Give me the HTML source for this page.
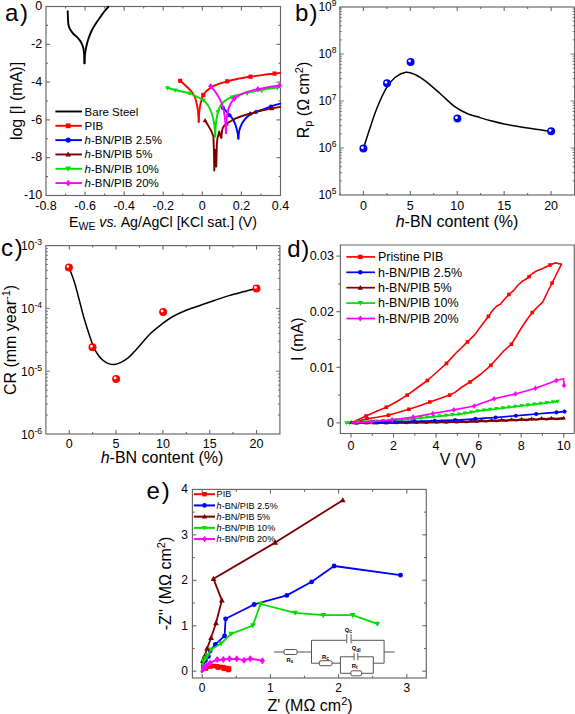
<!DOCTYPE html><html><head><meta charset="utf-8"><style>html,body{margin:0;padding:0;background:#fff;width:575px;height:714px;overflow:hidden}svg{display:block}text{font-family:"Liberation Sans", sans-serif;fill:#000}</style></head><body>
<svg width="575" height="714" viewBox="0 0 575 714">
<defs><radialGradient id="gb" cx="0.5" cy="0.5" r="0.55" fx="0.42" fy="0.36"><stop offset="0" stop-color="#ffffff"/><stop offset="0.3" stop-color="#ffffff"/><stop offset="0.45" stop-color="#3030ff"/><stop offset="1" stop-color="#0000ee"/></radialGradient><radialGradient id="gr" cx="0.5" cy="0.5" r="0.55" fx="0.42" fy="0.36"><stop offset="0" stop-color="#ffffff"/><stop offset="0.3" stop-color="#ffffff"/><stop offset="0.45" stop-color="#ff3030"/><stop offset="1" stop-color="#ee0000"/></radialGradient><radialGradient id="hl"><stop offset="0" stop-color="#fff" stop-opacity="1"/><stop offset="0.45" stop-color="#fff" stop-opacity="1"/><stop offset="1" stop-color="#fff" stop-opacity="0"/></radialGradient></defs>
<rect width="575" height="714" fill="#fff"/>
<rect x="46" y="6.5" width="234.5" height="189" fill="none" stroke="#666666" stroke-width="1.15"/>
<line x1="65.54" y1="195.5" x2="65.54" y2="193.5" stroke="#666666" stroke-width="1.1"/>
<line x1="65.54" y1="6.5" x2="65.54" y2="8.5" stroke="#666666" stroke-width="1.1"/>
<line x1="85.08" y1="195.5" x2="85.08" y2="191.5" stroke="#666666" stroke-width="1.1"/>
<line x1="85.08" y1="6.5" x2="85.08" y2="10.5" stroke="#666666" stroke-width="1.1"/>
<line x1="104.62" y1="195.5" x2="104.62" y2="193.5" stroke="#666666" stroke-width="1.1"/>
<line x1="104.62" y1="6.5" x2="104.62" y2="8.5" stroke="#666666" stroke-width="1.1"/>
<line x1="124.17" y1="195.5" x2="124.17" y2="191.5" stroke="#666666" stroke-width="1.1"/>
<line x1="124.17" y1="6.5" x2="124.17" y2="10.5" stroke="#666666" stroke-width="1.1"/>
<line x1="143.71" y1="195.5" x2="143.71" y2="193.5" stroke="#666666" stroke-width="1.1"/>
<line x1="143.71" y1="6.5" x2="143.71" y2="8.5" stroke="#666666" stroke-width="1.1"/>
<line x1="163.25" y1="195.5" x2="163.25" y2="191.5" stroke="#666666" stroke-width="1.1"/>
<line x1="163.25" y1="6.5" x2="163.25" y2="10.5" stroke="#666666" stroke-width="1.1"/>
<line x1="182.79" y1="195.5" x2="182.79" y2="193.5" stroke="#666666" stroke-width="1.1"/>
<line x1="182.79" y1="6.5" x2="182.79" y2="8.5" stroke="#666666" stroke-width="1.1"/>
<line x1="202.33" y1="195.5" x2="202.33" y2="191.5" stroke="#666666" stroke-width="1.1"/>
<line x1="202.33" y1="6.5" x2="202.33" y2="10.5" stroke="#666666" stroke-width="1.1"/>
<line x1="221.88" y1="195.5" x2="221.88" y2="193.5" stroke="#666666" stroke-width="1.1"/>
<line x1="221.88" y1="6.5" x2="221.88" y2="8.5" stroke="#666666" stroke-width="1.1"/>
<line x1="241.42" y1="195.5" x2="241.42" y2="191.5" stroke="#666666" stroke-width="1.1"/>
<line x1="241.42" y1="6.5" x2="241.42" y2="10.5" stroke="#666666" stroke-width="1.1"/>
<line x1="260.96" y1="195.5" x2="260.96" y2="193.5" stroke="#666666" stroke-width="1.1"/>
<line x1="260.96" y1="6.5" x2="260.96" y2="8.5" stroke="#666666" stroke-width="1.1"/>
<line x1="46" y1="25.4" x2="48" y2="25.4" stroke="#666666" stroke-width="1.1"/>
<line x1="280.5" y1="25.4" x2="278.5" y2="25.4" stroke="#666666" stroke-width="1.1"/>
<line x1="46" y1="44.3" x2="50" y2="44.3" stroke="#666666" stroke-width="1.1"/>
<line x1="280.5" y1="44.3" x2="276.5" y2="44.3" stroke="#666666" stroke-width="1.1"/>
<line x1="46" y1="63.2" x2="48" y2="63.2" stroke="#666666" stroke-width="1.1"/>
<line x1="280.5" y1="63.2" x2="278.5" y2="63.2" stroke="#666666" stroke-width="1.1"/>
<line x1="46" y1="82.1" x2="50" y2="82.1" stroke="#666666" stroke-width="1.1"/>
<line x1="280.5" y1="82.1" x2="276.5" y2="82.1" stroke="#666666" stroke-width="1.1"/>
<line x1="46" y1="101" x2="48" y2="101" stroke="#666666" stroke-width="1.1"/>
<line x1="280.5" y1="101" x2="278.5" y2="101" stroke="#666666" stroke-width="1.1"/>
<line x1="46" y1="119.9" x2="50" y2="119.9" stroke="#666666" stroke-width="1.1"/>
<line x1="280.5" y1="119.9" x2="276.5" y2="119.9" stroke="#666666" stroke-width="1.1"/>
<line x1="46" y1="138.8" x2="48" y2="138.8" stroke="#666666" stroke-width="1.1"/>
<line x1="280.5" y1="138.8" x2="278.5" y2="138.8" stroke="#666666" stroke-width="1.1"/>
<line x1="46" y1="157.7" x2="50" y2="157.7" stroke="#666666" stroke-width="1.1"/>
<line x1="280.5" y1="157.7" x2="276.5" y2="157.7" stroke="#666666" stroke-width="1.1"/>
<line x1="46" y1="176.6" x2="48" y2="176.6" stroke="#666666" stroke-width="1.1"/>
<line x1="280.5" y1="176.6" x2="278.5" y2="176.6" stroke="#666666" stroke-width="1.1"/>
<text x="42.2" y="10.1" font-size="12.5" text-anchor="end"  style="">0</text>
<text x="42.2" y="47.9" font-size="12.5" text-anchor="end"  style="">-2</text>
<text x="42.2" y="85.7" font-size="12.5" text-anchor="end"  style="">-4</text>
<text x="42.2" y="123.5" font-size="12.5" text-anchor="end"  style="">-6</text>
<text x="42.2" y="161.3" font-size="12.5" text-anchor="end"  style="">-8</text>
<text x="42.2" y="199.1" font-size="12.5" text-anchor="end"  style="">-10</text>
<text x="46" y="209.7" font-size="12.5" text-anchor="middle"  style="">-0.8</text>
<text x="85.08" y="209.7" font-size="12.5" text-anchor="middle"  style="">-0.6</text>
<text x="124.17" y="209.7" font-size="12.5" text-anchor="middle"  style="">-0.4</text>
<text x="163.25" y="209.7" font-size="12.5" text-anchor="middle"  style="">-0.2</text>
<text x="202.33" y="209.7" font-size="12.5" text-anchor="middle"  style="">0</text>
<text x="241.42" y="209.7" font-size="12.5" text-anchor="middle"  style="">0.2</text>
<text x="280.5" y="209.7" font-size="12.5" text-anchor="middle"  style="">0.4</text>
<text x="5" y="21.2" font-size="24" text-anchor="start"  style="">a<tspan dx="1.6">)</tspan></text>
<text transform="translate(22,101) rotate(-90)" font-size="16" text-anchor="middle">log [I (mA)]</text>
<text x="69" y="226.5" font-size="14.2">E<tspan font-size="10.5" dy="3">WE</tspan><tspan dy="-3"> </tspan><tspan font-style="italic">vs.</tspan> Ag/AgCl [KCl sat.] (V)</text>
<path d="M67.7,11.2 C67.75,12.5 67.87,16.7 68,19 C68.13,21.3 68.13,23.25 68.5,25 C68.87,26.75 69.37,28 70.2,29.5 C71.03,31 72.27,32.65 73.5,34 C74.73,35.35 76.32,36.18 77.6,37.6 C78.88,39.02 80.25,40.77 81.2,42.5 C82.15,44.23 82.8,45.92 83.3,48 C83.8,50.08 84,52.45 84.2,55 C84.4,57.55 84.45,61.92 84.5,63.3" fill="none" stroke="#000" stroke-width="1.9" stroke-linejoin="round" stroke-linecap="round" />
<path d="M84.5,63.3 C84.57,61.92 84.62,57.72 84.9,55 C85.18,52.28 85.65,49.58 86.2,47 C86.75,44.42 87.32,42.17 88.2,39.5 C89.08,36.83 90.28,33.58 91.5,31 C92.72,28.42 94.08,26.25 95.5,24 C96.92,21.75 98.53,19.58 100,17.5 C101.47,15.42 102.92,13.28 104.3,11.5 C105.68,9.72 107.63,7.58 108.3,6.8" fill="none" stroke="#000" stroke-width="1.9" stroke-linejoin="round" stroke-linecap="round" />
<path d="M180.2,80.8 C181.17,81.67 184.12,84.22 186,86 C187.88,87.78 190,89.58 191.5,91.5 C193,93.42 194.08,95.25 195,97.5 C195.92,99.75 196.47,102.42 197,105 C197.53,107.58 197.92,110.18 198.2,113 C198.48,115.82 198.62,120.42 198.7,121.9" fill="none" stroke="#ff0000" stroke-width="1.9" stroke-linejoin="round" stroke-linecap="round" />
<path d="M198.7,121.9 C198.8,120.25 198.98,115.07 199.3,112 C199.62,108.93 199.93,106.33 200.6,103.5 C201.27,100.67 202.27,97.12 203.3,95 C204.33,92.88 205.5,92.05 206.8,90.8 C208.1,89.55 209.23,88.6 211.1,87.5 C212.97,86.4 215.3,85.23 218,84.2 C220.7,83.17 223.97,82.2 227.3,81.3 C230.63,80.4 234.13,79.57 238,78.8 C241.87,78.03 246.5,77.32 250.5,76.7 C254.5,76.08 258,75.62 262,75.1 C266,74.58 271.45,73.97 274.5,73.6 C277.55,73.23 279.33,73.02 280.3,72.9" fill="none" stroke="#ff0000" stroke-width="1.9" stroke-linejoin="round" stroke-linecap="round" />
<rect x="178.1" y="78.7" width="4.2" height="4.2" fill="#ff0000"/>
<rect x="201.2" y="92.9" width="4.2" height="4.2" fill="#ff0000"/>
<rect x="225.2" y="79.2" width="4.2" height="4.2" fill="#ff0000"/>
<rect x="248.4" y="74.6" width="4.2" height="4.2" fill="#ff0000"/>
<rect x="272.4" y="71.5" width="4.2" height="4.2" fill="#ff0000"/>
<path d="M222.4,107.3 C223,107.92 224.73,109.63 226,111 C227.27,112.37 228.75,113.95 230,115.5 C231.25,117.05 232.5,118.47 233.5,120.3 C234.5,122.13 235.32,124.38 236,126.5 C236.68,128.62 237.2,130.98 237.6,133 C238,135.02 238.27,137.67 238.4,138.6" fill="none" stroke="#0000ff" stroke-width="1.9" stroke-linejoin="round" stroke-linecap="round" />
<path d="M238.4,138.6 C238.53,137.33 238.72,133.27 239.2,131 C239.68,128.73 240.4,126.9 241.3,125 C242.2,123.1 243.32,121.2 244.6,119.6 C245.88,118 247.27,116.6 249,115.4 C250.73,114.2 252.92,113.3 255,112.4 C257.08,111.5 258.85,111 261.5,110 C264.15,109 267.77,107.47 270.9,106.4 C274.03,105.33 278.73,104.07 280.3,103.6" fill="none" stroke="#0000ff" stroke-width="1.9" stroke-linejoin="round" stroke-linecap="round" />
<circle cx="223" cy="108" r="1.99" fill="#0000ff"/>
<circle cx="229.5" cy="115.2" r="1.99" fill="#0000ff"/>
<circle cx="256" cy="112" r="1.99" fill="#0000ff"/>
<circle cx="271" cy="106.4" r="1.99" fill="#0000ff"/>
<path d="M205.1,120.5 L208.4,125.9 L211.6,131.5 L213.4,136.8 L213.9,150 L214.3,170.5 L215.3,150 L216.3,166.5 L216.8,145 L217.4,138.5 L219.3,131.5 L220.4,136 L221.4,138 L222.1,130 L223.5,126.5 L226.9,123.4 L231,121 L235.2,118.7 L242,116 L249.8,113.6 L257,111.6 L265,109.9 L272,108.4 L280.3,106.9" fill="none" stroke="#7b0000" stroke-width="1.9" stroke-linejoin="round" stroke-linecap="round" />
<path d="M205.1,118 L207.5,122.3 L202.7,122.3 Z" fill="#7b0000"/>
<path d="M226.5,121.1 L228.9,125.4 L224.1,125.4 Z" fill="#7b0000"/>
<path d="M250,110.9 L252.4,115.2 L247.6,115.2 Z" fill="#7b0000"/>
<path d="M272,105.9 L274.4,110.2 L269.6,110.2 Z" fill="#7b0000"/>
<path d="M166.8,87.6 C168,87.97 171.47,89.15 174,89.8 C176.53,90.45 179.47,90.9 182,91.5 C184.53,92.1 186.87,92.6 189.2,93.4 C191.53,94.2 193.77,95.25 196,96.3 C198.23,97.35 200.77,98.42 202.6,99.7 C204.43,100.98 205.68,102.28 207,104 C208.32,105.72 209.5,107.67 210.5,110 C211.5,112.33 212.32,115.17 213,118 C213.68,120.83 214.23,123.9 214.6,127 C214.97,130.1 215.1,135 215.2,136.6" fill="none" stroke="#00dd00" stroke-width="1.9" stroke-linejoin="round" stroke-linecap="round" />
<path d="M215.2,136.6 C215.3,134.67 215.47,128.6 215.8,125 C216.13,121.4 216.58,117.92 217.2,115 C217.82,112.08 218.45,109.67 219.5,107.5 C220.55,105.33 222.08,103.45 223.5,102 C224.92,100.55 226.53,99.7 228,98.8 C229.47,97.9 230.47,97.3 232.3,96.6 C234.13,95.9 236.57,95.23 239,94.6 C241.43,93.97 244.4,93.35 246.9,92.8 C249.4,92.25 251.57,91.75 254,91.3 C256.43,90.85 258.83,90.57 261.5,90.1 C264.17,89.63 266.87,89.03 270,88.5 C273.13,87.97 278.58,87.17 280.3,86.9" fill="none" stroke="#00dd00" stroke-width="1.9" stroke-linejoin="round" stroke-linecap="round" />
<path d="M167.5,90.5 L169.9,86.2 L165.1,86.2 Z" fill="#00dd00"/>
<path d="M175.3,92.7 L177.7,88.4 L172.9,88.4 Z" fill="#00dd00"/>
<path d="M189.1,95.7 L191.5,91.4 L186.7,91.4 Z" fill="#00dd00"/>
<path d="M203.5,102.7 L205.9,98.4 L201.1,98.4 Z" fill="#00dd00"/>
<path d="M217.8,114.5 L220.2,110.2 L215.4,110.2 Z" fill="#00dd00"/>
<path d="M232,99.9 L234.4,95.6 L229.6,95.6 Z" fill="#00dd00"/>
<path d="M247.1,96 L249.5,91.7 L244.7,91.7 Z" fill="#00dd00"/>
<path d="M261.5,93.3 L263.9,89 L259.1,89 Z" fill="#00dd00"/>
<path d="M277.4,90.4 L279.8,86.1 L275,86.1 Z" fill="#00dd00"/>
<path d="M210.6,86.3 C211.17,86.92 212.77,88.38 214,90 C215.23,91.62 216.7,93.75 218,96 C219.3,98.25 220.8,100.83 221.8,103.5 C222.8,106.17 223.42,108.92 224,112 C224.58,115.08 224.97,118.5 225.3,122 C225.63,125.5 225.88,131.17 226,133" fill="none" stroke="#ff00ff" stroke-width="1.9" stroke-linejoin="round" stroke-linecap="round" />
<path d="M226,133 C226.08,131 226.17,124.75 226.5,121 C226.83,117.25 227.3,113.42 228,110.5 C228.7,107.58 229.63,105.48 230.7,103.5 C231.77,101.52 232.85,100.02 234.4,98.6 C235.95,97.18 238.08,96.05 240,95 C241.92,93.95 243.98,93.03 245.9,92.3 C247.82,91.57 249.5,91.12 251.5,90.6 C253.5,90.08 255.15,89.77 257.9,89.2 C260.65,88.63 264.27,87.83 268,87.2 C271.73,86.57 278.25,85.7 280.3,85.4" fill="none" stroke="#ff00ff" stroke-width="1.9" stroke-linejoin="round" stroke-linecap="round" />
<path d="M210.6,83.22 L213.02,86.3 L210.6,89.38 L208.18,86.3 Z" fill="#ff00ff"/>
<path d="M234.4,95.52 L236.82,98.6 L234.4,101.68 L231.98,98.6 Z" fill="#ff00ff"/>
<path d="M257.9,86.12 L260.32,89.2 L257.9,92.28 L255.48,89.2 Z" fill="#ff00ff"/>
<path d="M279.5,82.42 L281.92,85.5 L279.5,88.58 L277.08,85.5 Z" fill="#ff00ff"/>
<line x1="55.4" y1="111.5" x2="82" y2="111.5" stroke="#000" stroke-width="1.9"/>
<text x="84.6" y="115.5" font-size="11.5" text-anchor="start"  style="">Bare Steel</text>
<line x1="55.4" y1="125.82" x2="82" y2="125.82" stroke="#ff0000" stroke-width="1.9"/>
<rect x="65.8" y="123.42" width="4.8" height="4.8" fill="#ff0000"/>
<text x="84.6" y="129.82" font-size="11.5" text-anchor="start"  style="">PIB</text>
<line x1="55.4" y1="140.14" x2="82" y2="140.14" stroke="#0000ff" stroke-width="1.9"/>
<circle cx="68.2" cy="140.14" r="2.52" fill="#0000ff"/>
<text x="84.6" y="144.14" font-size="11.5" text-anchor="start"  style=""><tspan font-style="italic">h</tspan>-BN/PIB 2.5%</text>
<line x1="55.4" y1="154.46" x2="82" y2="154.46" stroke="#7b0000" stroke-width="1.9"/>
<path d="M68.2,151.46 L71.08,156.62 L65.32,156.62 Z" fill="#7b0000"/>
<text x="84.6" y="158.46" font-size="11.5" text-anchor="start"  style=""><tspan font-style="italic">h</tspan>-BN/PIB 5%</text>
<line x1="55.4" y1="168.78" x2="82" y2="168.78" stroke="#00dd00" stroke-width="1.9"/>
<path d="M68.2,171.78 L71.08,166.62 L65.32,166.62 Z" fill="#00dd00"/>
<text x="84.6" y="172.78" font-size="11.5" text-anchor="start"  style=""><tspan font-style="italic">h</tspan>-BN/PIB 10%</text>
<line x1="55.4" y1="183.1" x2="82" y2="183.1" stroke="#ff00ff" stroke-width="1.9"/>
<path d="M68.2,179.74 L70.84,183.1 L68.2,186.46 L65.56,183.1 Z" fill="#ff00ff"/>
<text x="84.6" y="187.1" font-size="11.5" text-anchor="start"  style=""><tspan font-style="italic">h</tspan>-BN/PIB 20%</text>
<rect x="339.9" y="7" width="234.7" height="188" fill="none" stroke="#666666" stroke-width="1.15"/>
<line x1="339.94" y1="195" x2="339.94" y2="193" stroke="#666666" stroke-width="1.1"/>
<line x1="339.94" y1="7" x2="339.94" y2="9" stroke="#666666" stroke-width="1.1"/>
<line x1="363.4" y1="195" x2="363.4" y2="191" stroke="#666666" stroke-width="1.1"/>
<line x1="363.4" y1="7" x2="363.4" y2="11" stroke="#666666" stroke-width="1.1"/>
<line x1="386.86" y1="195" x2="386.86" y2="193" stroke="#666666" stroke-width="1.1"/>
<line x1="386.86" y1="7" x2="386.86" y2="9" stroke="#666666" stroke-width="1.1"/>
<line x1="410.32" y1="195" x2="410.32" y2="191" stroke="#666666" stroke-width="1.1"/>
<line x1="410.32" y1="7" x2="410.32" y2="11" stroke="#666666" stroke-width="1.1"/>
<line x1="433.79" y1="195" x2="433.79" y2="193" stroke="#666666" stroke-width="1.1"/>
<line x1="433.79" y1="7" x2="433.79" y2="9" stroke="#666666" stroke-width="1.1"/>
<line x1="457.25" y1="195" x2="457.25" y2="191" stroke="#666666" stroke-width="1.1"/>
<line x1="457.25" y1="7" x2="457.25" y2="11" stroke="#666666" stroke-width="1.1"/>
<line x1="480.71" y1="195" x2="480.71" y2="193" stroke="#666666" stroke-width="1.1"/>
<line x1="480.71" y1="7" x2="480.71" y2="9" stroke="#666666" stroke-width="1.1"/>
<line x1="504.17" y1="195" x2="504.17" y2="191" stroke="#666666" stroke-width="1.1"/>
<line x1="504.17" y1="7" x2="504.17" y2="11" stroke="#666666" stroke-width="1.1"/>
<line x1="527.64" y1="195" x2="527.64" y2="193" stroke="#666666" stroke-width="1.1"/>
<line x1="527.64" y1="7" x2="527.64" y2="9" stroke="#666666" stroke-width="1.1"/>
<line x1="551.1" y1="195" x2="551.1" y2="191" stroke="#666666" stroke-width="1.1"/>
<line x1="551.1" y1="7" x2="551.1" y2="11" stroke="#666666" stroke-width="1.1"/>
<line x1="339.9" y1="180.85" x2="341.9" y2="180.85" stroke="#666666" stroke-width="0.9"/>
<line x1="574.6" y1="180.85" x2="572.6" y2="180.85" stroke="#666666" stroke-width="0.9"/>
<line x1="339.9" y1="172.58" x2="341.9" y2="172.58" stroke="#666666" stroke-width="0.9"/>
<line x1="574.6" y1="172.58" x2="572.6" y2="172.58" stroke="#666666" stroke-width="0.9"/>
<line x1="339.9" y1="166.7" x2="341.9" y2="166.7" stroke="#666666" stroke-width="0.9"/>
<line x1="574.6" y1="166.7" x2="572.6" y2="166.7" stroke="#666666" stroke-width="0.9"/>
<line x1="339.9" y1="162.15" x2="341.9" y2="162.15" stroke="#666666" stroke-width="0.9"/>
<line x1="574.6" y1="162.15" x2="572.6" y2="162.15" stroke="#666666" stroke-width="0.9"/>
<line x1="339.9" y1="158.43" x2="341.9" y2="158.43" stroke="#666666" stroke-width="0.9"/>
<line x1="574.6" y1="158.43" x2="572.6" y2="158.43" stroke="#666666" stroke-width="0.9"/>
<line x1="339.9" y1="155.28" x2="341.9" y2="155.28" stroke="#666666" stroke-width="0.9"/>
<line x1="574.6" y1="155.28" x2="572.6" y2="155.28" stroke="#666666" stroke-width="0.9"/>
<line x1="339.9" y1="152.55" x2="341.9" y2="152.55" stroke="#666666" stroke-width="0.9"/>
<line x1="574.6" y1="152.55" x2="572.6" y2="152.55" stroke="#666666" stroke-width="0.9"/>
<line x1="339.9" y1="150.15" x2="341.9" y2="150.15" stroke="#666666" stroke-width="0.9"/>
<line x1="574.6" y1="150.15" x2="572.6" y2="150.15" stroke="#666666" stroke-width="0.9"/>
<line x1="339.9" y1="148" x2="343.9" y2="148" stroke="#666666" stroke-width="0.9"/>
<line x1="574.6" y1="148" x2="570.6" y2="148" stroke="#666666" stroke-width="0.9"/>
<line x1="339.9" y1="133.85" x2="341.9" y2="133.85" stroke="#666666" stroke-width="0.9"/>
<line x1="574.6" y1="133.85" x2="572.6" y2="133.85" stroke="#666666" stroke-width="0.9"/>
<line x1="339.9" y1="125.58" x2="341.9" y2="125.58" stroke="#666666" stroke-width="0.9"/>
<line x1="574.6" y1="125.58" x2="572.6" y2="125.58" stroke="#666666" stroke-width="0.9"/>
<line x1="339.9" y1="119.7" x2="341.9" y2="119.7" stroke="#666666" stroke-width="0.9"/>
<line x1="574.6" y1="119.7" x2="572.6" y2="119.7" stroke="#666666" stroke-width="0.9"/>
<line x1="339.9" y1="115.15" x2="341.9" y2="115.15" stroke="#666666" stroke-width="0.9"/>
<line x1="574.6" y1="115.15" x2="572.6" y2="115.15" stroke="#666666" stroke-width="0.9"/>
<line x1="339.9" y1="111.43" x2="341.9" y2="111.43" stroke="#666666" stroke-width="0.9"/>
<line x1="574.6" y1="111.43" x2="572.6" y2="111.43" stroke="#666666" stroke-width="0.9"/>
<line x1="339.9" y1="108.28" x2="341.9" y2="108.28" stroke="#666666" stroke-width="0.9"/>
<line x1="574.6" y1="108.28" x2="572.6" y2="108.28" stroke="#666666" stroke-width="0.9"/>
<line x1="339.9" y1="105.55" x2="341.9" y2="105.55" stroke="#666666" stroke-width="0.9"/>
<line x1="574.6" y1="105.55" x2="572.6" y2="105.55" stroke="#666666" stroke-width="0.9"/>
<line x1="339.9" y1="103.15" x2="341.9" y2="103.15" stroke="#666666" stroke-width="0.9"/>
<line x1="574.6" y1="103.15" x2="572.6" y2="103.15" stroke="#666666" stroke-width="0.9"/>
<line x1="339.9" y1="101" x2="343.9" y2="101" stroke="#666666" stroke-width="0.9"/>
<line x1="574.6" y1="101" x2="570.6" y2="101" stroke="#666666" stroke-width="0.9"/>
<line x1="339.9" y1="86.85" x2="341.9" y2="86.85" stroke="#666666" stroke-width="0.9"/>
<line x1="574.6" y1="86.85" x2="572.6" y2="86.85" stroke="#666666" stroke-width="0.9"/>
<line x1="339.9" y1="78.58" x2="341.9" y2="78.58" stroke="#666666" stroke-width="0.9"/>
<line x1="574.6" y1="78.58" x2="572.6" y2="78.58" stroke="#666666" stroke-width="0.9"/>
<line x1="339.9" y1="72.7" x2="341.9" y2="72.7" stroke="#666666" stroke-width="0.9"/>
<line x1="574.6" y1="72.7" x2="572.6" y2="72.7" stroke="#666666" stroke-width="0.9"/>
<line x1="339.9" y1="68.15" x2="341.9" y2="68.15" stroke="#666666" stroke-width="0.9"/>
<line x1="574.6" y1="68.15" x2="572.6" y2="68.15" stroke="#666666" stroke-width="0.9"/>
<line x1="339.9" y1="64.43" x2="341.9" y2="64.43" stroke="#666666" stroke-width="0.9"/>
<line x1="574.6" y1="64.43" x2="572.6" y2="64.43" stroke="#666666" stroke-width="0.9"/>
<line x1="339.9" y1="61.28" x2="341.9" y2="61.28" stroke="#666666" stroke-width="0.9"/>
<line x1="574.6" y1="61.28" x2="572.6" y2="61.28" stroke="#666666" stroke-width="0.9"/>
<line x1="339.9" y1="58.55" x2="341.9" y2="58.55" stroke="#666666" stroke-width="0.9"/>
<line x1="574.6" y1="58.55" x2="572.6" y2="58.55" stroke="#666666" stroke-width="0.9"/>
<line x1="339.9" y1="56.15" x2="341.9" y2="56.15" stroke="#666666" stroke-width="0.9"/>
<line x1="574.6" y1="56.15" x2="572.6" y2="56.15" stroke="#666666" stroke-width="0.9"/>
<line x1="339.9" y1="54" x2="343.9" y2="54" stroke="#666666" stroke-width="0.9"/>
<line x1="574.6" y1="54" x2="570.6" y2="54" stroke="#666666" stroke-width="0.9"/>
<line x1="339.9" y1="39.85" x2="341.9" y2="39.85" stroke="#666666" stroke-width="0.9"/>
<line x1="574.6" y1="39.85" x2="572.6" y2="39.85" stroke="#666666" stroke-width="0.9"/>
<line x1="339.9" y1="31.58" x2="341.9" y2="31.58" stroke="#666666" stroke-width="0.9"/>
<line x1="574.6" y1="31.58" x2="572.6" y2="31.58" stroke="#666666" stroke-width="0.9"/>
<line x1="339.9" y1="25.7" x2="341.9" y2="25.7" stroke="#666666" stroke-width="0.9"/>
<line x1="574.6" y1="25.7" x2="572.6" y2="25.7" stroke="#666666" stroke-width="0.9"/>
<line x1="339.9" y1="21.15" x2="341.9" y2="21.15" stroke="#666666" stroke-width="0.9"/>
<line x1="574.6" y1="21.15" x2="572.6" y2="21.15" stroke="#666666" stroke-width="0.9"/>
<line x1="339.9" y1="17.43" x2="341.9" y2="17.43" stroke="#666666" stroke-width="0.9"/>
<line x1="574.6" y1="17.43" x2="572.6" y2="17.43" stroke="#666666" stroke-width="0.9"/>
<line x1="339.9" y1="14.28" x2="341.9" y2="14.28" stroke="#666666" stroke-width="0.9"/>
<line x1="574.6" y1="14.28" x2="572.6" y2="14.28" stroke="#666666" stroke-width="0.9"/>
<line x1="339.9" y1="11.55" x2="341.9" y2="11.55" stroke="#666666" stroke-width="0.9"/>
<line x1="574.6" y1="11.55" x2="572.6" y2="11.55" stroke="#666666" stroke-width="0.9"/>
<line x1="339.9" y1="9.15" x2="341.9" y2="9.15" stroke="#666666" stroke-width="0.9"/>
<line x1="574.6" y1="9.15" x2="572.6" y2="9.15" stroke="#666666" stroke-width="0.9"/>
<text x="336.5" y="199" font-size="12" text-anchor="end">10<tspan font-size="8.5" dy="-5">5</tspan></text>
<text x="336.5" y="152" font-size="12" text-anchor="end">10<tspan font-size="8.5" dy="-5">6</tspan></text>
<text x="336.5" y="105" font-size="12" text-anchor="end">10<tspan font-size="8.5" dy="-5">7</tspan></text>
<text x="336.5" y="58" font-size="12" text-anchor="end">10<tspan font-size="8.5" dy="-5">8</tspan></text>
<text x="336.5" y="11" font-size="12" text-anchor="end">10<tspan font-size="8.5" dy="-5">9</tspan></text>
<text x="363.4" y="209.5" font-size="12.5" text-anchor="middle"  style="">0</text>
<text x="410.32" y="209.5" font-size="12.5" text-anchor="middle"  style="">5</text>
<text x="457.25" y="209.5" font-size="12.5" text-anchor="middle"  style="">10</text>
<text x="504.17" y="209.5" font-size="12.5" text-anchor="middle"  style="">15</text>
<text x="551.1" y="209.5" font-size="12.5" text-anchor="middle"  style="">20</text>
<text x="295" y="21.4" font-size="24" text-anchor="start"  style="">b<tspan dx="1.2">)</tspan></text>
<text transform="translate(308.7,100) rotate(-90)" font-size="16" text-anchor="middle">R<tspan font-size="11" dy="3">p</tspan><tspan dy="-3"> (&#937; cm</tspan><tspan font-size="11" dy="-6">2</tspan><tspan dy="6">)</tspan></text>
<text x="457" y="226.5" font-size="16" text-anchor="middle"><tspan font-style="italic">h</tspan>-BN content (%)</text>
<path d="M363.4,148.6 C364.5,145.17 367.73,134.77 370,128 C372.27,121.23 374.28,114.63 377,108 C379.72,101.37 383.3,93.28 386.3,88.2 C389.3,83.12 391.77,80.15 395,77.5 C398.23,74.85 402.37,72.8 405.7,72.3 C409.03,71.8 411.75,73.07 415,74.5 C418.25,75.93 421.03,77.73 425.2,80.9 C429.37,84.07 435.13,89.25 440,93.5 C444.87,97.75 449.9,103.07 454.4,106.4 C458.9,109.73 462.73,111.63 467,113.5 C471.27,115.37 475.83,116.35 480,117.6 C484.17,118.85 487.98,119.95 492,121 C496.02,122.05 499.93,123.02 504.1,123.9 C508.27,124.78 512.75,125.57 517,126.3 C521.25,127.03 525.77,127.72 529.6,128.3 C533.43,128.88 536.42,129.3 540,129.8 C543.58,130.3 549.25,131.05 551.1,131.3" fill="none" stroke="#000" stroke-width="1.5" stroke-linejoin="round" stroke-linecap="round" />
<circle cx="363.4" cy="148.6" r="4" fill="#0000ff"/>
<circle cx="362.4" cy="147.6" r="1.9" fill="url(#hl)"/>
<circle cx="387" cy="83.3" r="4" fill="#0000ff"/>
<circle cx="386" cy="82.3" r="1.9" fill="url(#hl)"/>
<circle cx="410.6" cy="61.9" r="4" fill="#0000ff"/>
<circle cx="409.6" cy="60.9" r="1.9" fill="url(#hl)"/>
<circle cx="457.4" cy="118.6" r="4" fill="#0000ff"/>
<circle cx="456.4" cy="117.6" r="1.9" fill="url(#hl)"/>
<circle cx="551.1" cy="131.3" r="4" fill="#0000ff"/>
<circle cx="550.1" cy="130.3" r="1.9" fill="url(#hl)"/>
<rect x="45.9" y="245.6" width="234" height="188.4" fill="none" stroke="#666666" stroke-width="1.15"/>
<line x1="69.3" y1="434" x2="69.3" y2="430" stroke="#666666" stroke-width="1.1"/>
<line x1="69.3" y1="245.6" x2="69.3" y2="249.6" stroke="#666666" stroke-width="1.1"/>
<line x1="92.7" y1="434" x2="92.7" y2="432" stroke="#666666" stroke-width="1.1"/>
<line x1="92.7" y1="245.6" x2="92.7" y2="247.6" stroke="#666666" stroke-width="1.1"/>
<line x1="116.1" y1="434" x2="116.1" y2="430" stroke="#666666" stroke-width="1.1"/>
<line x1="116.1" y1="245.6" x2="116.1" y2="249.6" stroke="#666666" stroke-width="1.1"/>
<line x1="139.5" y1="434" x2="139.5" y2="432" stroke="#666666" stroke-width="1.1"/>
<line x1="139.5" y1="245.6" x2="139.5" y2="247.6" stroke="#666666" stroke-width="1.1"/>
<line x1="162.9" y1="434" x2="162.9" y2="430" stroke="#666666" stroke-width="1.1"/>
<line x1="162.9" y1="245.6" x2="162.9" y2="249.6" stroke="#666666" stroke-width="1.1"/>
<line x1="186.3" y1="434" x2="186.3" y2="432" stroke="#666666" stroke-width="1.1"/>
<line x1="186.3" y1="245.6" x2="186.3" y2="247.6" stroke="#666666" stroke-width="1.1"/>
<line x1="209.7" y1="434" x2="209.7" y2="430" stroke="#666666" stroke-width="1.1"/>
<line x1="209.7" y1="245.6" x2="209.7" y2="249.6" stroke="#666666" stroke-width="1.1"/>
<line x1="233.1" y1="434" x2="233.1" y2="432" stroke="#666666" stroke-width="1.1"/>
<line x1="233.1" y1="245.6" x2="233.1" y2="247.6" stroke="#666666" stroke-width="1.1"/>
<line x1="256.5" y1="434" x2="256.5" y2="430" stroke="#666666" stroke-width="1.1"/>
<line x1="256.5" y1="245.6" x2="256.5" y2="249.6" stroke="#666666" stroke-width="1.1"/>
<line x1="45.9" y1="415.1" x2="47.9" y2="415.1" stroke="#666666" stroke-width="0.9"/>
<line x1="279.9" y1="415.1" x2="277.9" y2="415.1" stroke="#666666" stroke-width="0.9"/>
<line x1="45.9" y1="404.04" x2="47.9" y2="404.04" stroke="#666666" stroke-width="0.9"/>
<line x1="279.9" y1="404.04" x2="277.9" y2="404.04" stroke="#666666" stroke-width="0.9"/>
<line x1="45.9" y1="396.19" x2="47.9" y2="396.19" stroke="#666666" stroke-width="0.9"/>
<line x1="279.9" y1="396.19" x2="277.9" y2="396.19" stroke="#666666" stroke-width="0.9"/>
<line x1="45.9" y1="390.1" x2="47.9" y2="390.1" stroke="#666666" stroke-width="0.9"/>
<line x1="279.9" y1="390.1" x2="277.9" y2="390.1" stroke="#666666" stroke-width="0.9"/>
<line x1="45.9" y1="385.13" x2="47.9" y2="385.13" stroke="#666666" stroke-width="0.9"/>
<line x1="279.9" y1="385.13" x2="277.9" y2="385.13" stroke="#666666" stroke-width="0.9"/>
<line x1="45.9" y1="380.93" x2="47.9" y2="380.93" stroke="#666666" stroke-width="0.9"/>
<line x1="279.9" y1="380.93" x2="277.9" y2="380.93" stroke="#666666" stroke-width="0.9"/>
<line x1="45.9" y1="377.29" x2="47.9" y2="377.29" stroke="#666666" stroke-width="0.9"/>
<line x1="279.9" y1="377.29" x2="277.9" y2="377.29" stroke="#666666" stroke-width="0.9"/>
<line x1="45.9" y1="374.07" x2="47.9" y2="374.07" stroke="#666666" stroke-width="0.9"/>
<line x1="279.9" y1="374.07" x2="277.9" y2="374.07" stroke="#666666" stroke-width="0.9"/>
<line x1="45.9" y1="371.2" x2="49.9" y2="371.2" stroke="#666666" stroke-width="0.9"/>
<line x1="279.9" y1="371.2" x2="275.9" y2="371.2" stroke="#666666" stroke-width="0.9"/>
<line x1="45.9" y1="352.3" x2="47.9" y2="352.3" stroke="#666666" stroke-width="0.9"/>
<line x1="279.9" y1="352.3" x2="277.9" y2="352.3" stroke="#666666" stroke-width="0.9"/>
<line x1="45.9" y1="341.24" x2="47.9" y2="341.24" stroke="#666666" stroke-width="0.9"/>
<line x1="279.9" y1="341.24" x2="277.9" y2="341.24" stroke="#666666" stroke-width="0.9"/>
<line x1="45.9" y1="333.39" x2="47.9" y2="333.39" stroke="#666666" stroke-width="0.9"/>
<line x1="279.9" y1="333.39" x2="277.9" y2="333.39" stroke="#666666" stroke-width="0.9"/>
<line x1="45.9" y1="327.3" x2="47.9" y2="327.3" stroke="#666666" stroke-width="0.9"/>
<line x1="279.9" y1="327.3" x2="277.9" y2="327.3" stroke="#666666" stroke-width="0.9"/>
<line x1="45.9" y1="322.33" x2="47.9" y2="322.33" stroke="#666666" stroke-width="0.9"/>
<line x1="279.9" y1="322.33" x2="277.9" y2="322.33" stroke="#666666" stroke-width="0.9"/>
<line x1="45.9" y1="318.13" x2="47.9" y2="318.13" stroke="#666666" stroke-width="0.9"/>
<line x1="279.9" y1="318.13" x2="277.9" y2="318.13" stroke="#666666" stroke-width="0.9"/>
<line x1="45.9" y1="314.49" x2="47.9" y2="314.49" stroke="#666666" stroke-width="0.9"/>
<line x1="279.9" y1="314.49" x2="277.9" y2="314.49" stroke="#666666" stroke-width="0.9"/>
<line x1="45.9" y1="311.27" x2="47.9" y2="311.27" stroke="#666666" stroke-width="0.9"/>
<line x1="279.9" y1="311.27" x2="277.9" y2="311.27" stroke="#666666" stroke-width="0.9"/>
<line x1="45.9" y1="308.4" x2="49.9" y2="308.4" stroke="#666666" stroke-width="0.9"/>
<line x1="279.9" y1="308.4" x2="275.9" y2="308.4" stroke="#666666" stroke-width="0.9"/>
<line x1="45.9" y1="289.5" x2="47.9" y2="289.5" stroke="#666666" stroke-width="0.9"/>
<line x1="279.9" y1="289.5" x2="277.9" y2="289.5" stroke="#666666" stroke-width="0.9"/>
<line x1="45.9" y1="278.44" x2="47.9" y2="278.44" stroke="#666666" stroke-width="0.9"/>
<line x1="279.9" y1="278.44" x2="277.9" y2="278.44" stroke="#666666" stroke-width="0.9"/>
<line x1="45.9" y1="270.59" x2="47.9" y2="270.59" stroke="#666666" stroke-width="0.9"/>
<line x1="279.9" y1="270.59" x2="277.9" y2="270.59" stroke="#666666" stroke-width="0.9"/>
<line x1="45.9" y1="264.5" x2="47.9" y2="264.5" stroke="#666666" stroke-width="0.9"/>
<line x1="279.9" y1="264.5" x2="277.9" y2="264.5" stroke="#666666" stroke-width="0.9"/>
<line x1="45.9" y1="259.53" x2="47.9" y2="259.53" stroke="#666666" stroke-width="0.9"/>
<line x1="279.9" y1="259.53" x2="277.9" y2="259.53" stroke="#666666" stroke-width="0.9"/>
<line x1="45.9" y1="255.33" x2="47.9" y2="255.33" stroke="#666666" stroke-width="0.9"/>
<line x1="279.9" y1="255.33" x2="277.9" y2="255.33" stroke="#666666" stroke-width="0.9"/>
<line x1="45.9" y1="251.69" x2="47.9" y2="251.69" stroke="#666666" stroke-width="0.9"/>
<line x1="279.9" y1="251.69" x2="277.9" y2="251.69" stroke="#666666" stroke-width="0.9"/>
<line x1="45.9" y1="248.47" x2="47.9" y2="248.47" stroke="#666666" stroke-width="0.9"/>
<line x1="279.9" y1="248.47" x2="277.9" y2="248.47" stroke="#666666" stroke-width="0.9"/>
<text x="42" y="438.7" font-size="12" text-anchor="end">10<tspan font-size="8.5" dy="-5">-6</tspan></text>
<text x="42" y="375.9" font-size="12" text-anchor="end">10<tspan font-size="8.5" dy="-5">-5</tspan></text>
<text x="42" y="313.1" font-size="12" text-anchor="end">10<tspan font-size="8.5" dy="-5">-4</tspan></text>
<text x="42" y="250.3" font-size="12" text-anchor="end">10<tspan font-size="8.5" dy="-5">-3</tspan></text>
<text x="69.3" y="447.6" font-size="12.5" text-anchor="middle"  style="">0</text>
<text x="116.1" y="447.6" font-size="12.5" text-anchor="middle"  style="">5</text>
<text x="162.9" y="447.6" font-size="12.5" text-anchor="middle"  style="">10</text>
<text x="209.7" y="447.6" font-size="12.5" text-anchor="middle"  style="">15</text>
<text x="256.5" y="447.6" font-size="12.5" text-anchor="middle"  style="">20</text>
<text x="1" y="255.5" font-size="24" text-anchor="start"  style="">c<tspan dx="1.8">)</tspan></text>
<text transform="translate(15.5,340) rotate(-90)" font-size="16" text-anchor="middle">CR (mm year<tspan font-size="11" dy="-6">-1</tspan><tspan dy="6">)</tspan></text>
<text x="162" y="463.4" font-size="16" text-anchor="middle"><tspan font-style="italic">h</tspan>-BN content (%)</text>
<path d="M68.9,267.4 C69.78,269.75 72.52,276.23 74.2,281.5 C75.88,286.77 77.37,292.92 79,299 C80.63,305.08 82.33,312.17 84,318 C85.67,323.83 87.38,329.12 89,334 C90.62,338.88 92.12,343.72 93.7,347.3 C95.28,350.88 96.88,353.27 98.5,355.5 C100.12,357.73 101.73,359.35 103.4,360.7 C105.07,362.05 106.67,362.97 108.5,363.6 C110.33,364.23 112.4,364.67 114.4,364.5 C116.4,364.33 118.27,363.65 120.5,362.6 C122.73,361.55 125.38,360.13 127.8,358.2 C130.22,356.27 132.57,353.63 135,351 C137.43,348.37 139.73,345.4 142.4,342.4 C145.07,339.4 147.75,336.05 151,333 C154.25,329.95 158.4,326.77 161.9,324.1 C165.4,321.43 168.15,319.23 172,317 C175.85,314.77 180.33,312.62 185,310.7 C189.67,308.78 195,307.25 200,305.5 C205,303.75 210.17,301.85 215,300.2 C219.83,298.55 224.33,297 229,295.6 C233.67,294.2 238.42,293 243,291.8 C247.58,290.6 254.25,288.97 256.5,288.4" fill="none" stroke="#000" stroke-width="1.5" stroke-linejoin="round" stroke-linecap="round" />
<circle cx="68.9" cy="267.4" r="4" fill="#ff0000"/>
<circle cx="67.9" cy="266.4" r="1.9" fill="url(#hl)"/>
<circle cx="92.5" cy="347.3" r="4" fill="#ff0000"/>
<circle cx="91.5" cy="346.3" r="1.9" fill="url(#hl)"/>
<circle cx="116.1" cy="378.9" r="4" fill="#ff0000"/>
<circle cx="115.1" cy="377.9" r="1.9" fill="url(#hl)"/>
<circle cx="163.1" cy="312" r="4" fill="#ff0000"/>
<circle cx="162.1" cy="311" r="1.9" fill="url(#hl)"/>
<circle cx="256.5" cy="288.4" r="4" fill="#ff0000"/>
<circle cx="255.5" cy="287.4" r="1.9" fill="url(#hl)"/>
<path d="M340.4,245 L574.3,245 L574.3,433.5 L340.4,433.5 Z" fill="none" stroke="#666666" stroke-width="1.15"/>
<line x1="351" y1="433.5" x2="351" y2="437.5" stroke="#666666" stroke-width="1.1"/>
<line x1="372.27" y1="433.5" x2="372.27" y2="435.8" stroke="#666666" stroke-width="1.1"/>
<line x1="393.54" y1="433.5" x2="393.54" y2="437.5" stroke="#666666" stroke-width="1.1"/>
<line x1="414.81" y1="433.5" x2="414.81" y2="435.8" stroke="#666666" stroke-width="1.1"/>
<line x1="436.08" y1="433.5" x2="436.08" y2="437.5" stroke="#666666" stroke-width="1.1"/>
<line x1="457.35" y1="433.5" x2="457.35" y2="435.8" stroke="#666666" stroke-width="1.1"/>
<line x1="478.62" y1="433.5" x2="478.62" y2="437.5" stroke="#666666" stroke-width="1.1"/>
<line x1="499.89" y1="433.5" x2="499.89" y2="435.8" stroke="#666666" stroke-width="1.1"/>
<line x1="521.16" y1="433.5" x2="521.16" y2="437.5" stroke="#666666" stroke-width="1.1"/>
<line x1="542.43" y1="433.5" x2="542.43" y2="435.8" stroke="#666666" stroke-width="1.1"/>
<line x1="563.7" y1="433.5" x2="563.7" y2="437.5" stroke="#666666" stroke-width="1.1"/>
<line x1="340.4" y1="422.9" x2="336.4" y2="422.9" stroke="#666666" stroke-width="1.1"/>
<line x1="340.4" y1="395.1" x2="338.1" y2="395.1" stroke="#666666" stroke-width="1.1"/>
<line x1="340.4" y1="367.3" x2="336.4" y2="367.3" stroke="#666666" stroke-width="1.1"/>
<line x1="340.4" y1="339.5" x2="338.1" y2="339.5" stroke="#666666" stroke-width="1.1"/>
<line x1="340.4" y1="311.7" x2="336.4" y2="311.7" stroke="#666666" stroke-width="1.1"/>
<line x1="340.4" y1="283.9" x2="338.1" y2="283.9" stroke="#666666" stroke-width="1.1"/>
<line x1="340.4" y1="256.1" x2="336.4" y2="256.1" stroke="#666666" stroke-width="1.1"/>
<text x="334" y="427.1" font-size="12.5" text-anchor="end"  style="">0</text>
<text x="334" y="371.5" font-size="12.5" text-anchor="end"  style="">0.01</text>
<text x="334" y="315.9" font-size="12.5" text-anchor="end"  style="">0.02</text>
<text x="334" y="260.3" font-size="12.5" text-anchor="end"  style="">0.03</text>
<text x="351" y="450" font-size="12.5" text-anchor="middle"  style="">0</text>
<text x="393.54" y="450" font-size="12.5" text-anchor="middle"  style="">2</text>
<text x="436.08" y="450" font-size="12.5" text-anchor="middle"  style="">4</text>
<text x="478.62" y="450" font-size="12.5" text-anchor="middle"  style="">6</text>
<text x="521.16" y="450" font-size="12.5" text-anchor="middle"  style="">8</text>
<text x="563.7" y="450" font-size="12.5" text-anchor="middle"  style="">10</text>
<text x="287.3" y="257.2" font-size="24" text-anchor="start"  style="">d<tspan dx="0.5">)</tspan></text>
<text transform="translate(302.5,339.2) rotate(-90)" font-size="16" text-anchor="middle">I (mA)</text>
<text x="457.9" y="464.8" font-size="16" text-anchor="middle"  style="">V (V)</text>
<path d="M351.5,422.9 L358,419.8 L366.1,416 L376,411.6 L386.3,407.2 L397,401.5 L407.2,395.1 L417,388 L427.3,380.5 L437,372 L446.5,363.4 L456.5,352.5 L467.5,341.9 L474.8,334.6 L481.5,325.5 L488.4,316.4 L492.5,310.5 L496.8,306 L500,304.5 L503,301 L508.9,294.5 L513.5,290.7 L518,285 L522.2,281.3 L525.5,279.5 L529.1,276.7 L532.5,273.5 L536.4,270.9 L542.7,268.4 L550,265 L555.2,262.9 L561.5,264.2" fill="none" stroke="#ff0000" stroke-width="1.6" stroke-linejoin="round" stroke-linecap="round" />
<path d="M561.5,264.2 L557,273 L552.1,283 L547.5,292 L542.7,302.2 L537,307.5 L532.2,312.6 L527,319.5 L521.8,327.2 L516.5,336 L511.4,344.2 L503,351.7 L497,358.5 L490.9,365.3 L481,374 L470,382 L462,387 L455,392.4 L449.6,395.1 L440,398.5 L429.8,402 L419,406 L408.9,409.3 L398,412.5 L388.4,415.2 L377,417.3 L367.1,418.7 L358,421 L351.5,422.9" fill="none" stroke="#ff0000" stroke-width="1.6" stroke-linejoin="round" stroke-linecap="round" />
<rect x="364.3" y="414.2" width="3.6" height="3.6" fill="#ff0000"/>
<rect x="384.5" y="405.4" width="3.6" height="3.6" fill="#ff0000"/>
<rect x="405.4" y="393.3" width="3.6" height="3.6" fill="#ff0000"/>
<rect x="425.5" y="378.7" width="3.6" height="3.6" fill="#ff0000"/>
<rect x="444.7" y="361.6" width="3.6" height="3.6" fill="#ff0000"/>
<rect x="465.7" y="340.1" width="3.6" height="3.6" fill="#ff0000"/>
<rect x="486.6" y="314.6" width="3.6" height="3.6" fill="#ff0000"/>
<rect x="507.1" y="292.7" width="3.6" height="3.6" fill="#ff0000"/>
<rect x="527.3" y="274.9" width="3.6" height="3.6" fill="#ff0000"/>
<rect x="548.2" y="263.2" width="3.6" height="3.6" fill="#ff0000"/>
<rect x="550.3" y="281.2" width="3.6" height="3.6" fill="#ff0000"/>
<rect x="530.4" y="310.8" width="3.6" height="3.6" fill="#ff0000"/>
<rect x="509.6" y="342.4" width="3.6" height="3.6" fill="#ff0000"/>
<rect x="489.1" y="363.5" width="3.6" height="3.6" fill="#ff0000"/>
<rect x="468.2" y="380.2" width="3.6" height="3.6" fill="#ff0000"/>
<rect x="447.8" y="393.3" width="3.6" height="3.6" fill="#ff0000"/>
<rect x="428" y="400.2" width="3.6" height="3.6" fill="#ff0000"/>
<rect x="407.1" y="407.5" width="3.6" height="3.6" fill="#ff0000"/>
<rect x="386.6" y="413.4" width="3.6" height="3.6" fill="#ff0000"/>
<rect x="365.3" y="416.9" width="3.6" height="3.6" fill="#ff0000"/>
<path d="M346.3,423.2 L349.4,423.2 L351.5,422.9 L357.8,422.52 L364.1,422.15 L370.4,421.77 L376.7,421.39 L383,421.02 L389.3,420.64 L395.6,420.26 L401.9,419.82 L408.2,419.21 L414.5,418.6 L420.8,417.99 L427.1,417.38 L433.4,416.77 L439.7,416.16 L446,415.55 L452.3,414.94 L458.6,414.34 L464.9,413.37 L471.2,412.3 L477.5,411.23 L483.8,410.35 L490.1,409.61 L496.4,408.87 L502.7,408.13 L509,407.39 L515.3,406.66 L521.6,405.92 L527.9,405.18 L534.2,404.44 L540.5,403.7 L546.8,402.96 L553.1,402.22 L557.5,401.7" fill="none" stroke="#00dd00" stroke-width="1.8" stroke-linejoin="round" stroke-linecap="round" />
<path d="M346.3,425.15 L348.46,421.28 L344.14,421.28 Z" fill="#00dd00"/>
<path d="M349.4,425.15 L351.56,421.28 L347.24,421.28 Z" fill="#00dd00"/>
<path d="M351.5,424.85 L353.66,420.98 L349.34,420.98 Z" fill="#00dd00"/>
<path d="M357.8,424.47 L359.96,420.6 L355.64,420.6 Z" fill="#00dd00"/>
<path d="M364.1,424.1 L366.26,420.23 L361.94,420.23 Z" fill="#00dd00"/>
<path d="M370.4,423.72 L372.56,419.85 L368.24,419.85 Z" fill="#00dd00"/>
<path d="M376.7,423.34 L378.86,419.47 L374.54,419.47 Z" fill="#00dd00"/>
<path d="M383,422.97 L385.16,419.1 L380.84,419.1 Z" fill="#00dd00"/>
<path d="M389.3,422.59 L391.46,418.72 L387.14,418.72 Z" fill="#00dd00"/>
<path d="M395.6,422.21 L397.76,418.34 L393.44,418.34 Z" fill="#00dd00"/>
<path d="M401.9,421.77 L404.06,417.9 L399.74,417.9 Z" fill="#00dd00"/>
<path d="M408.2,421.16 L410.36,417.29 L406.04,417.29 Z" fill="#00dd00"/>
<path d="M414.5,420.55 L416.66,416.68 L412.34,416.68 Z" fill="#00dd00"/>
<path d="M420.8,419.94 L422.96,416.07 L418.64,416.07 Z" fill="#00dd00"/>
<path d="M427.1,419.33 L429.26,415.46 L424.94,415.46 Z" fill="#00dd00"/>
<path d="M433.4,418.72 L435.56,414.85 L431.24,414.85 Z" fill="#00dd00"/>
<path d="M439.7,418.11 L441.86,414.24 L437.54,414.24 Z" fill="#00dd00"/>
<path d="M446,417.5 L448.16,413.63 L443.84,413.63 Z" fill="#00dd00"/>
<path d="M452.3,416.89 L454.46,413.02 L450.14,413.02 Z" fill="#00dd00"/>
<path d="M458.6,416.29 L460.76,412.42 L456.44,412.42 Z" fill="#00dd00"/>
<path d="M464.9,415.32 L467.06,411.45 L462.74,411.45 Z" fill="#00dd00"/>
<path d="M471.2,414.25 L473.36,410.38 L469.04,410.38 Z" fill="#00dd00"/>
<path d="M477.5,413.18 L479.66,409.31 L475.34,409.31 Z" fill="#00dd00"/>
<path d="M483.8,412.3 L485.96,408.43 L481.64,408.43 Z" fill="#00dd00"/>
<path d="M490.1,411.56 L492.26,407.69 L487.94,407.69 Z" fill="#00dd00"/>
<path d="M496.4,410.82 L498.56,406.95 L494.24,406.95 Z" fill="#00dd00"/>
<path d="M502.7,410.08 L504.86,406.21 L500.54,406.21 Z" fill="#00dd00"/>
<path d="M509,409.34 L511.16,405.47 L506.84,405.47 Z" fill="#00dd00"/>
<path d="M515.3,408.61 L517.46,404.74 L513.14,404.74 Z" fill="#00dd00"/>
<path d="M521.6,407.87 L523.76,404 L519.44,404 Z" fill="#00dd00"/>
<path d="M527.9,407.13 L530.06,403.26 L525.74,403.26 Z" fill="#00dd00"/>
<path d="M534.2,406.39 L536.36,402.52 L532.04,402.52 Z" fill="#00dd00"/>
<path d="M540.5,405.65 L542.66,401.78 L538.34,401.78 Z" fill="#00dd00"/>
<path d="M546.8,404.91 L548.96,401.04 L544.64,401.04 Z" fill="#00dd00"/>
<path d="M553.1,404.17 L555.26,400.3 L550.94,400.3 Z" fill="#00dd00"/>
<path d="M557.5,403.65 L559.66,399.78 L555.34,399.78 Z" fill="#00dd00"/>
<path d="M351.5,422.7 L356.5,423.46 L361.5,422.62 L366.5,423.38 L371.5,422.54 L376.5,423.29 L381.5,422.45 L386.5,423.21 L391.5,422.37 L396.5,423.13 L401.5,422.28 L406.5,423.01 L411.5,422.15 L416.5,422.88 L421.5,422.01 L426.5,422.75 L431.5,421.88 L436.5,422.61 L441.5,421.75 L446.5,422.48 L451.5,421.61 L456.5,422.35 L461.5,421.45 L466.5,422.07 L471.5,421.1 L476.5,421.73 L481.5,420.75 L486.5,421.38 L491.5,420.41 L496.5,421.03 L501.5,420.06 L506.5,420.69 L511.5,419.71 L516.5,420.34 L521.5,419.36 L526.5,419.99 L531.5,419.02 L536.5,419.64 L541.5,418.67 L546.5,419.3 L551.5,418.32 L556.5,418.95 L563.7,418.2" fill="none" stroke="#7b0000" stroke-width="2.4" stroke-linejoin="round" stroke-linecap="round" />
<path d="M351.5,420.15 L353.66,424.02 L349.34,424.02 Z" fill="#7b0000"/>
<path d="M361.5,420.07 L363.66,423.94 L359.34,423.94 Z" fill="#7b0000"/>
<path d="M371.5,419.99 L373.66,423.86 L369.34,423.86 Z" fill="#7b0000"/>
<path d="M381.5,419.9 L383.66,423.77 L379.34,423.77 Z" fill="#7b0000"/>
<path d="M391.5,419.82 L393.66,423.69 L389.34,423.69 Z" fill="#7b0000"/>
<path d="M401.5,419.73 L403.66,423.6 L399.34,423.6 Z" fill="#7b0000"/>
<path d="M411.5,419.6 L413.66,423.47 L409.34,423.47 Z" fill="#7b0000"/>
<path d="M421.5,419.46 L423.66,423.33 L419.34,423.33 Z" fill="#7b0000"/>
<path d="M431.5,419.33 L433.66,423.2 L429.34,423.2 Z" fill="#7b0000"/>
<path d="M441.5,419.2 L443.66,423.07 L439.34,423.07 Z" fill="#7b0000"/>
<path d="M451.5,419.06 L453.66,422.93 L449.34,422.93 Z" fill="#7b0000"/>
<path d="M461.5,418.9 L463.66,422.77 L459.34,422.77 Z" fill="#7b0000"/>
<path d="M471.5,418.55 L473.66,422.42 L469.34,422.42 Z" fill="#7b0000"/>
<path d="M481.5,418.2 L483.66,422.07 L479.34,422.07 Z" fill="#7b0000"/>
<path d="M491.5,417.86 L493.66,421.73 L489.34,421.73 Z" fill="#7b0000"/>
<path d="M501.5,417.51 L503.66,421.38 L499.34,421.38 Z" fill="#7b0000"/>
<path d="M511.5,417.16 L513.66,421.03 L509.34,421.03 Z" fill="#7b0000"/>
<path d="M521.5,416.81 L523.66,420.68 L519.34,420.68 Z" fill="#7b0000"/>
<path d="M531.5,416.47 L533.66,420.34 L529.34,420.34 Z" fill="#7b0000"/>
<path d="M541.5,416.12 L543.66,419.99 L539.34,419.99 Z" fill="#7b0000"/>
<path d="M551.5,415.77 L553.66,419.64 L549.34,419.64 Z" fill="#7b0000"/>
<path d="M563.7,415.65 L565.86,419.52 L561.54,419.52 Z" fill="#7b0000"/>
<path d="M351.5,422.9 L353.5,422.85 L363.65,422.62 L373.8,422.39 L383.95,422.16 L394.1,421.93 L404.25,421.67 L414.4,421.37 L424.55,421.06 L434.7,420.76 L444.85,420.45 L455,420.15 L465.15,419.64 L475.3,418.93 L485.45,418.21 L495.6,417.5 L505.75,416.63 L515.9,415.75 L526.05,414.88 L536.2,414.01 L546.35,413.14 L556.5,412.28 L564.5,411.6" fill="none" stroke="#0000ff" stroke-width="1.7" stroke-linejoin="round" stroke-linecap="round" />
<circle cx="373.8" cy="422.39" r="2.1" fill="#0000ff"/>
<circle cx="394.1" cy="421.93" r="2.1" fill="#0000ff"/>
<circle cx="414.4" cy="421.37" r="2.1" fill="#0000ff"/>
<circle cx="434.7" cy="420.76" r="2.1" fill="#0000ff"/>
<circle cx="455" cy="420.15" r="2.1" fill="#0000ff"/>
<circle cx="475.3" cy="418.93" r="2.1" fill="#0000ff"/>
<circle cx="495.6" cy="417.5" r="2.1" fill="#0000ff"/>
<circle cx="515.9" cy="415.75" r="2.1" fill="#0000ff"/>
<circle cx="536.2" cy="414.01" r="2.1" fill="#0000ff"/>
<circle cx="556.5" cy="412.28" r="2.1" fill="#0000ff"/>
<circle cx="564.5" cy="411.6" r="2.1" fill="#0000ff"/>
<path d="M351.5,422.9 L371.3,421.9 L392.2,419.8 L413.1,417.1 L432.9,413.5 L453.8,409.9 L474.2,406 L494.2,398.7 L515.5,393.9 L535.4,388.2 L556.3,380.5 L563.6,378.8 L564,385.5" fill="none" stroke="#ff00ff" stroke-width="1.6" stroke-linejoin="round" stroke-linecap="round" />
<path d="M371.3,419.1 L373.5,421.9 L371.3,424.7 L369.1,421.9 Z" fill="#ff00ff"/>
<path d="M392.2,417 L394.4,419.8 L392.2,422.6 L390,419.8 Z" fill="#ff00ff"/>
<path d="M413.1,414.3 L415.3,417.1 L413.1,419.9 L410.9,417.1 Z" fill="#ff00ff"/>
<path d="M432.9,410.7 L435.1,413.5 L432.9,416.3 L430.7,413.5 Z" fill="#ff00ff"/>
<path d="M453.8,407.1 L456,409.9 L453.8,412.7 L451.6,409.9 Z" fill="#ff00ff"/>
<path d="M474.2,403.2 L476.4,406 L474.2,408.8 L472,406 Z" fill="#ff00ff"/>
<path d="M494.2,395.9 L496.4,398.7 L494.2,401.5 L492,398.7 Z" fill="#ff00ff"/>
<path d="M515.5,391.1 L517.7,393.9 L515.5,396.7 L513.3,393.9 Z" fill="#ff00ff"/>
<path d="M535.4,385.4 L537.6,388.2 L535.4,391 L533.2,388.2 Z" fill="#ff00ff"/>
<path d="M556.3,377.7 L558.5,380.5 L556.3,383.3 L554.1,380.5 Z" fill="#ff00ff"/>
<path d="M564,382.7 L566.2,385.5 L564,388.3 L561.8,385.5 Z" fill="#ff00ff"/>
<line x1="346.3" y1="256.9" x2="375" y2="256.9" stroke="#ff0000" stroke-width="1.7"/>
<rect x="358.1" y="254.7" width="4.4" height="4.4" fill="#ff0000"/>
<text x="378" y="261.1" font-size="12.5" text-anchor="start"  style="">Pristine PIB</text>
<line x1="346.3" y1="272.3" x2="375" y2="272.3" stroke="#0000ff" stroke-width="1.7"/>
<circle cx="360.3" cy="272.3" r="2.31" fill="#0000ff"/>
<text x="378" y="276.5" font-size="12.5" text-anchor="start"  style="">h-BN/PIB 2.5%</text>
<line x1="346.3" y1="287.7" x2="375" y2="287.7" stroke="#7b0000" stroke-width="1.7"/>
<path d="M360.3,284.95 L362.94,289.68 L357.66,289.68 Z" fill="#7b0000"/>
<text x="378" y="291.9" font-size="12.5" text-anchor="start"  style="">h-BN/PIB 5%</text>
<line x1="346.3" y1="303.1" x2="375" y2="303.1" stroke="#00dd00" stroke-width="1.7"/>
<path d="M360.3,305.85 L362.94,301.12 L357.66,301.12 Z" fill="#00dd00"/>
<text x="378" y="307.3" font-size="12.5" text-anchor="start"  style="">h-BN/PIB 10%</text>
<line x1="346.3" y1="318.5" x2="375" y2="318.5" stroke="#ff00ff" stroke-width="1.7"/>
<path d="M360.3,315.42 L362.72,318.5 L360.3,321.58 L357.88,318.5 Z" fill="#ff00ff"/>
<text x="378" y="322.7" font-size="12.5" text-anchor="start"  style="">h-BN/PIB 20%</text>
<rect x="192.4" y="489.4" width="233.9" height="188.6" fill="none" stroke="#666666" stroke-width="1.15"/>
<line x1="202.2" y1="678" x2="202.2" y2="674" stroke="#666666" stroke-width="1.1"/>
<line x1="202.2" y1="489.4" x2="202.2" y2="493.4" stroke="#666666" stroke-width="1.1"/>
<line x1="236.3" y1="678" x2="236.3" y2="675.7" stroke="#666666" stroke-width="1.1"/>
<line x1="236.3" y1="489.4" x2="236.3" y2="491.7" stroke="#666666" stroke-width="1.1"/>
<line x1="270.4" y1="678" x2="270.4" y2="674" stroke="#666666" stroke-width="1.1"/>
<line x1="270.4" y1="489.4" x2="270.4" y2="493.4" stroke="#666666" stroke-width="1.1"/>
<line x1="304.5" y1="678" x2="304.5" y2="675.7" stroke="#666666" stroke-width="1.1"/>
<line x1="304.5" y1="489.4" x2="304.5" y2="491.7" stroke="#666666" stroke-width="1.1"/>
<line x1="338.6" y1="678" x2="338.6" y2="674" stroke="#666666" stroke-width="1.1"/>
<line x1="338.6" y1="489.4" x2="338.6" y2="493.4" stroke="#666666" stroke-width="1.1"/>
<line x1="372.7" y1="678" x2="372.7" y2="675.7" stroke="#666666" stroke-width="1.1"/>
<line x1="372.7" y1="489.4" x2="372.7" y2="491.7" stroke="#666666" stroke-width="1.1"/>
<line x1="406.8" y1="678" x2="406.8" y2="674" stroke="#666666" stroke-width="1.1"/>
<line x1="406.8" y1="489.4" x2="406.8" y2="493.4" stroke="#666666" stroke-width="1.1"/>
<line x1="192.4" y1="671.2" x2="196.4" y2="671.2" stroke="#666666" stroke-width="1.1"/>
<line x1="426.3" y1="671.2" x2="422.3" y2="671.2" stroke="#666666" stroke-width="1.1"/>
<line x1="192.4" y1="648.48" x2="194.7" y2="648.48" stroke="#666666" stroke-width="1.1"/>
<line x1="426.3" y1="648.48" x2="424" y2="648.48" stroke="#666666" stroke-width="1.1"/>
<line x1="192.4" y1="625.75" x2="196.4" y2="625.75" stroke="#666666" stroke-width="1.1"/>
<line x1="426.3" y1="625.75" x2="422.3" y2="625.75" stroke="#666666" stroke-width="1.1"/>
<line x1="192.4" y1="603.03" x2="194.7" y2="603.03" stroke="#666666" stroke-width="1.1"/>
<line x1="426.3" y1="603.03" x2="424" y2="603.03" stroke="#666666" stroke-width="1.1"/>
<line x1="192.4" y1="580.3" x2="196.4" y2="580.3" stroke="#666666" stroke-width="1.1"/>
<line x1="426.3" y1="580.3" x2="422.3" y2="580.3" stroke="#666666" stroke-width="1.1"/>
<line x1="192.4" y1="557.58" x2="194.7" y2="557.58" stroke="#666666" stroke-width="1.1"/>
<line x1="426.3" y1="557.58" x2="424" y2="557.58" stroke="#666666" stroke-width="1.1"/>
<line x1="192.4" y1="534.85" x2="196.4" y2="534.85" stroke="#666666" stroke-width="1.1"/>
<line x1="426.3" y1="534.85" x2="422.3" y2="534.85" stroke="#666666" stroke-width="1.1"/>
<line x1="192.4" y1="512.12" x2="194.7" y2="512.12" stroke="#666666" stroke-width="1.1"/>
<line x1="426.3" y1="512.12" x2="424" y2="512.12" stroke="#666666" stroke-width="1.1"/>
<text x="188" y="675.2" font-size="12" text-anchor="end"  style="">0</text>
<text x="188" y="629.75" font-size="12" text-anchor="end"  style="">1</text>
<text x="188" y="584.3" font-size="12" text-anchor="end"  style="">2</text>
<text x="188" y="538.85" font-size="12" text-anchor="end"  style="">3</text>
<text x="188" y="493.4" font-size="12" text-anchor="end"  style="">4</text>
<text x="202.2" y="691.7" font-size="12" text-anchor="middle"  style="">0</text>
<text x="270.4" y="691.7" font-size="12" text-anchor="middle"  style="">1</text>
<text x="338.6" y="691.7" font-size="12" text-anchor="middle"  style="">2</text>
<text x="406.8" y="691.7" font-size="12" text-anchor="middle"  style="">3</text>
<text x="146.5" y="498.5" font-size="24" text-anchor="start"  style="">e<tspan dx="1.8">)</tspan></text>
<text transform="translate(170.6,583.5) rotate(-90)" font-size="16" text-anchor="middle">-Z'' (M&#937; cm<tspan font-size="11" dy="-6">2</tspan><tspan dy="6">)</tspan></text>
<text x="267.5" y="711" font-size="16">Z' (M&#937; cm<tspan font-size="11" dy="-6">2</tspan><tspan dy="6">)</tspan></text>
<path d="M202,671.3 L203.8,669 L206.3,668.3 L209.3,666.6 L212.4,665.7 L217.6,666.1 L223.7,667.4 L229.3,668.7" fill="none" stroke="#ff0000" stroke-width="3.0" stroke-linejoin="round" stroke-linecap="round" />
<rect x="203.7" y="666.2" width="4.6" height="4.6" fill="#ff0000"/>
<rect x="207.7" y="664.2" width="4.6" height="4.6" fill="#ff0000"/>
<rect x="211.2" y="663.7" width="4.6" height="4.6" fill="#ff0000"/>
<rect x="214.7" y="664" width="4.6" height="4.6" fill="#ff0000"/>
<rect x="217.7" y="664.7" width="4.6" height="4.6" fill="#ff0000"/>
<rect x="220.7" y="664.9" width="4.6" height="4.6" fill="#ff0000"/>
<rect x="223.7" y="665.7" width="4.6" height="4.6" fill="#ff0000"/>
<rect x="226.7" y="666.2" width="4.6" height="4.6" fill="#ff0000"/>
<rect x="226.2" y="667.7" width="4.6" height="4.6" fill="#ff0000"/>
<rect x="221.7" y="666.5" width="4.6" height="4.6" fill="#ff0000"/>
<rect x="215.7" y="665.2" width="4.6" height="4.6" fill="#ff0000"/>
<path d="M202,671.3 L203,666 L205.4,660.4 L208.4,656.5 L210.2,650.9 L215.4,644.3 L224.6,635.9 L225.6,618.8 L254.1,604.5 L286.8,595.4 L311.7,581.8 L334.1,566 L400.5,575.2" fill="none" stroke="#0000ff" stroke-width="1.8" stroke-linejoin="round" stroke-linecap="round" />
<circle cx="205.4" cy="660.4" r="2.42" fill="#0000ff"/>
<circle cx="208.4" cy="656.5" r="2.42" fill="#0000ff"/>
<circle cx="210.2" cy="650.9" r="2.42" fill="#0000ff"/>
<circle cx="215.4" cy="644.3" r="2.42" fill="#0000ff"/>
<circle cx="224.6" cy="635.9" r="2.42" fill="#0000ff"/>
<circle cx="225.6" cy="618.8" r="2.42" fill="#0000ff"/>
<circle cx="254.1" cy="604.5" r="2.42" fill="#0000ff"/>
<circle cx="286.8" cy="595.4" r="2.42" fill="#0000ff"/>
<circle cx="311.7" cy="581.8" r="2.42" fill="#0000ff"/>
<circle cx="334.1" cy="566" r="2.42" fill="#0000ff"/>
<circle cx="400.5" cy="575.2" r="2.42" fill="#0000ff"/>
<path d="M202,671.3 L202,666 L202.8,660.9 L204.6,656.1 L207.2,648.3 L211.1,637.8 L216,623 L221.9,600.3 L213.5,578.8 L275.2,542.6 L342.8,500.2" fill="none" stroke="#7b0000" stroke-width="1.8" stroke-linejoin="round" stroke-linecap="round" />
<path d="M202.8,657.9 L205.68,663.06 L199.92,663.06 Z" fill="#7b0000"/>
<path d="M204.6,653.1 L207.48,658.26 L201.72,658.26 Z" fill="#7b0000"/>
<path d="M207.2,645.3 L210.08,650.46 L204.32,650.46 Z" fill="#7b0000"/>
<path d="M211.1,634.8 L213.98,639.96 L208.22,639.96 Z" fill="#7b0000"/>
<path d="M216,620 L218.88,625.16 L213.12,625.16 Z" fill="#7b0000"/>
<path d="M221.9,597.3 L224.78,602.46 L219.02,602.46 Z" fill="#7b0000"/>
<path d="M213.5,575.8 L216.38,580.96 L210.62,580.96 Z" fill="#7b0000"/>
<path d="M275.2,539.6 L278.08,544.76 L272.32,544.76 Z" fill="#7b0000"/>
<path d="M342.8,497.2 L345.68,502.36 L339.92,502.36 Z" fill="#7b0000"/>
<path d="M202,671.3 L202.5,666 L203.7,661 L205.5,658.5 L207.2,655.7 L211.1,649.6 L221.1,643.5 L231.1,633.8 L252.9,625.5 L260.5,604 L295.1,612.8 L323.3,615.2 L352.6,615.2 L377.4,623.8" fill="none" stroke="#00dd00" stroke-width="1.8" stroke-linejoin="round" stroke-linecap="round" />
<path d="M203.7,664 L206.58,658.84 L200.82,658.84 Z" fill="#00dd00"/>
<path d="M205.5,661.5 L208.38,656.34 L202.62,656.34 Z" fill="#00dd00"/>
<path d="M207.2,658.7 L210.08,653.54 L204.32,653.54 Z" fill="#00dd00"/>
<path d="M211.1,652.6 L213.98,647.44 L208.22,647.44 Z" fill="#00dd00"/>
<path d="M221.1,646.5 L223.98,641.34 L218.22,641.34 Z" fill="#00dd00"/>
<path d="M231.1,636.8 L233.98,631.64 L228.22,631.64 Z" fill="#00dd00"/>
<path d="M252.9,628.5 L255.78,623.34 L250.02,623.34 Z" fill="#00dd00"/>
<path d="M260.5,607 L263.38,601.84 L257.62,601.84 Z" fill="#00dd00"/>
<path d="M295.1,615.8 L297.98,610.64 L292.22,610.64 Z" fill="#00dd00"/>
<path d="M323.3,618.2 L326.18,613.04 L320.42,613.04 Z" fill="#00dd00"/>
<path d="M352.6,618.2 L355.48,613.04 L349.72,613.04 Z" fill="#00dd00"/>
<path d="M377.4,626.8 L380.28,621.64 L374.52,621.64 Z" fill="#00dd00"/>
<path d="M202,671.6 L203.7,668.3 L208.9,663.9 L213.7,660.9 L218.5,660.5 L222.8,659.3 L228.9,658.8 L235,659.1 L238.5,659.1 L243.7,660.2 L250.2,658.7 L256,659.5 L262.3,660.7" fill="none" stroke="#ff00ff" stroke-width="1.8" stroke-linejoin="round" stroke-linecap="round" />
<path d="M203.5,665 L206.25,668.5 L203.5,672 L200.75,668.5 Z" fill="#ff00ff"/>
<path d="M206.5,662 L209.25,665.5 L206.5,669 L203.75,665.5 Z" fill="#ff00ff"/>
<path d="M210,659.5 L212.75,663 L210,666.5 L207.25,663 Z" fill="#ff00ff"/>
<path d="M217.2,656.1 L219.95,659.6 L217.2,663.1 L214.45,659.6 Z" fill="#ff00ff"/>
<path d="M223.3,655.9 L226.05,659.4 L223.3,662.9 L220.55,659.4 Z" fill="#ff00ff"/>
<path d="M229.4,655.3 L232.15,658.8 L229.4,662.3 L226.65,658.8 Z" fill="#ff00ff"/>
<path d="M236.7,655.3 L239.45,658.8 L236.7,662.3 L233.95,658.8 Z" fill="#ff00ff"/>
<path d="M244,656.7 L246.75,660.2 L244,663.7 L241.25,660.2 Z" fill="#ff00ff"/>
<path d="M250.1,655.2 L252.85,658.7 L250.1,662.2 L247.35,658.7 Z" fill="#ff00ff"/>
<path d="M262.3,657.2 L265.05,660.7 L262.3,664.2 L259.55,660.7 Z" fill="#ff00ff"/>
<line x1="193.8" y1="494.2" x2="215" y2="494.2" stroke="#ff0000" stroke-width="2"/>
<rect x="202.3" y="492" width="4.4" height="4.4" fill="#ff0000"/>
<text x="216.6" y="497.4" font-size="9.1" text-anchor="start"  style="">PIB</text>
<line x1="193.8" y1="505.42" x2="215" y2="505.42" stroke="#0000ff" stroke-width="2"/>
<circle cx="204.5" cy="505.42" r="2.31" fill="#0000ff"/>
<text x="216.6" y="508.62" font-size="9.1" text-anchor="start"  style=""><tspan font-style="italic">h</tspan>-BN/PIB 2.5%</text>
<line x1="193.8" y1="516.64" x2="215" y2="516.64" stroke="#7b0000" stroke-width="2"/>
<path d="M204.5,513.89 L207.14,518.62 L201.86,518.62 Z" fill="#7b0000"/>
<text x="216.6" y="519.84" font-size="9.1" text-anchor="start"  style=""><tspan font-style="italic">h</tspan>-BN/PIB 5%</text>
<line x1="193.8" y1="527.86" x2="215" y2="527.86" stroke="#00dd00" stroke-width="2"/>
<path d="M204.5,530.61 L207.14,525.88 L201.86,525.88 Z" fill="#00dd00"/>
<text x="216.6" y="531.06" font-size="9.1" text-anchor="start"  style=""><tspan font-style="italic">h</tspan>-BN/PIB 10%</text>
<line x1="193.8" y1="539.08" x2="215" y2="539.08" stroke="#ff00ff" stroke-width="2"/>
<path d="M204.5,536 L206.92,539.08 L204.5,542.16 L202.08,539.08 Z" fill="#ff00ff"/>
<text x="216.6" y="542.28" font-size="9.1" text-anchor="start"  style=""><tspan font-style="italic">h</tspan>-BN/PIB 20%</text>
<line x1="273.9" y1="652" x2="284.1" y2="652" stroke="#4a4a4a" stroke-width="0.95"/>
<rect x="284.1" y="649.5" width="13" height="5" rx="1.6" fill="#fff" stroke="#4a4a4a" stroke-width="0.95"/>
<line x1="297.1" y1="652" x2="311.5" y2="652" stroke="#4a4a4a" stroke-width="0.95"/>
<line x1="311.5" y1="640.3" x2="311.5" y2="663.2" stroke="#4a4a4a" stroke-width="0.95"/>
<line x1="311.5" y1="640.3" x2="346.7" y2="640.3" stroke="#4a4a4a" stroke-width="0.95"/>
<line x1="351.1" y1="640.3" x2="384.1" y2="640.3" stroke="#4a4a4a" stroke-width="0.95"/>
<line x1="346.7" y1="634.3" x2="346.7" y2="643.3" stroke="#777" stroke-width="1.2"/>
<line x1="351.1" y1="634.3" x2="351.1" y2="643.3" stroke="#777" stroke-width="1.2"/>
<line x1="384.1" y1="640.3" x2="384.1" y2="663.2" stroke="#4a4a4a" stroke-width="0.95"/>
<line x1="384.1" y1="652" x2="394.5" y2="652" stroke="#4a4a4a" stroke-width="0.95"/>
<line x1="311.5" y1="663.2" x2="319.3" y2="663.2" stroke="#4a4a4a" stroke-width="0.95"/>
<rect x="319.3" y="660.7" width="12.7" height="5" rx="1.6" fill="#fff" stroke="#4a4a4a" stroke-width="0.95"/>
<line x1="332" y1="663.2" x2="340.4" y2="663.2" stroke="#4a4a4a" stroke-width="0.95"/>
<line x1="340.4" y1="656.8" x2="340.4" y2="673.3" stroke="#4a4a4a" stroke-width="0.95"/>
<line x1="373.3" y1="656.8" x2="373.3" y2="673.3" stroke="#4a4a4a" stroke-width="0.95"/>
<line x1="340.4" y1="656.8" x2="354.1" y2="656.8" stroke="#4a4a4a" stroke-width="0.95"/>
<line x1="357.8" y1="656.8" x2="373.3" y2="656.8" stroke="#4a4a4a" stroke-width="0.95"/>
<line x1="354.1" y1="653.3" x2="354.1" y2="660.3" stroke="#777" stroke-width="1.2"/>
<line x1="357.8" y1="653.3" x2="357.8" y2="660.3" stroke="#777" stroke-width="1.2"/>
<line x1="340.4" y1="673.3" x2="350.9" y2="673.3" stroke="#4a4a4a" stroke-width="0.95"/>
<rect x="350.9" y="670.8" width="10.7" height="5" rx="1.6" fill="#fff" stroke="#4a4a4a" stroke-width="0.95"/>
<line x1="361.6" y1="673.3" x2="373.3" y2="673.3" stroke="#4a4a4a" stroke-width="0.95"/>
<line x1="373.3" y1="663.2" x2="384.1" y2="663.2" stroke="#4a4a4a" stroke-width="0.95"/>
<text x="344.7" y="631.6" font-size="5.8" font-weight="bold" fill="#222">Q<tspan font-size="4.8" dy="1.2">c</tspan></text>
<text x="286.4" y="661.7" font-size="5.8" font-weight="bold" fill="#222">R<tspan font-size="4.8" dy="1.2">s</tspan></text>
<text x="322" y="659.1" font-size="5.8" font-weight="bold" fill="#222">R<tspan font-size="4.8" dy="1.2">c</tspan></text>
<text x="351.8" y="650.3" font-size="5.8" font-weight="bold" fill="#222">Q<tspan font-size="4.8" dy="1.2">dl</tspan></text>
<text x="351.8" y="667.7" font-size="5.8" font-weight="bold" fill="#222">R<tspan font-size="4.8" dy="1.2">t</tspan></text>
</svg></body></html>
